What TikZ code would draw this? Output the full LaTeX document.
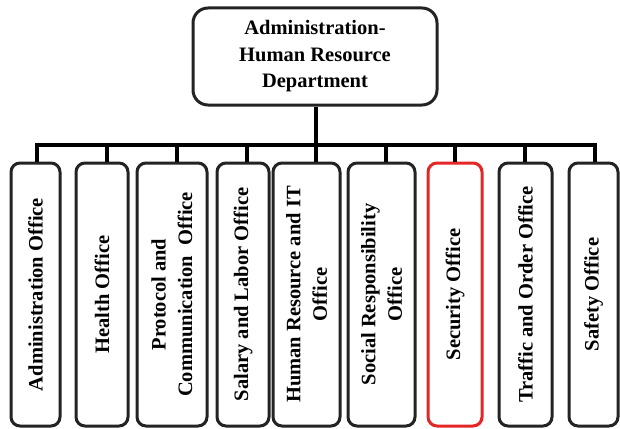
\documentclass[tikz,border=0pt]{standalone}
\usepackage{fontspec}
\setmainfont{Liberation Serif}
\definecolor{boxline}{RGB}{35,35,35}
\definecolor{alertred}{RGB}{228,38,38}
\begin{document}
\begin{tikzpicture}[x=1pt,y=-1pt,
  headbox/.style={draw=boxline, line width=3pt, rounded corners=15pt, fill=white,
    minimum width=244pt, minimum height=97pt, align=center, inner sep=0pt,
    font=\bfseries\fontsize{20.5}{26.5}\selectfont},
  officebox/.style={draw=boxline, line width=3pt, rounded corners=9pt, fill=white,
    rotate=90, minimum width=263pt, align=center, inner sep=0pt,
    font=\bfseries\fontsize{20.5}{26.5}\selectfont},
  link/.style={draw=black, line width=4pt}]
\useasboundingbox (0,0) rectangle (620,428);

\node[headbox] (head) at (315,56.5) {Administration-\\Human Resource\\Department};

\node[officebox, minimum height=49pt] (b1) at (35.5,294.5) {Administration Office};
\node[officebox, minimum height=52pt] (b2) at (102,294.5) {Health Office};
\node[officebox, minimum height=70pt] (b3) at (172,294.5) {Protocol and\\Communication~~Office};
\node[officebox, minimum height=52pt] (b4) at (243,294.5) {Salary and Labor Office};
\node[officebox, minimum height=67pt] (b5) at (306.5,294.5) {Human Resource and IT\\Office};
\node[officebox, minimum height=67pt] (b6) at (381.5,294.5) {Social Responsibility\\Office};
\node[officebox, minimum height=54pt, draw=alertred] (b7) at (455,294.5) {Security Office};
\node[officebox, minimum height=53pt] (b8) at (525.5,294.5) {Traffic and Order Office};
\node[officebox, minimum height=49pt] (b9) at (593.5,294.5) {Safety Office};

% horizontal distribution bar and drop points
\coordinate (d1) at (37,145);
\coordinate (d2) at (107,145);
\coordinate (d3) at (177,145);
\coordinate (d4) at (247,145);
\coordinate (d5) at (316,145);
\coordinate (d6) at (386,145);
\coordinate (d7) at (455,145);
\coordinate (d8) at (525,145);
\coordinate (d9) at (595,145);

\draw[link] (head.south -| d5) -- (d5);
\draw[link, line cap=rect] (d1) -- (d9);
\foreach \i in {1,...,9}{
  \draw[link] (d\i) -- (d\i |- b\i.east);
}
\end{tikzpicture}
\end{document}
